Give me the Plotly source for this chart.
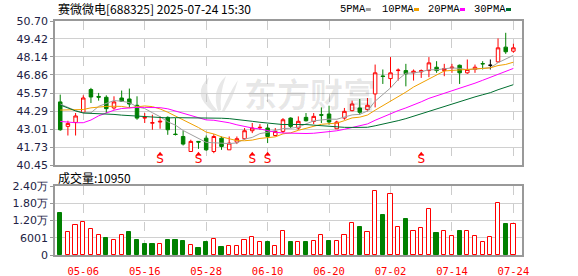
import plotly.graph_objects as go
import pandas as pd

# ---------------- data ----------------
dates = ["04-28","04-29","04-30","05-06","05-07","05-08","05-09","05-12","05-13","05-14",
         "05-15","05-16","05-19","05-20","05-21","05-22","05-23","05-26","05-27","05-28",
         "05-29","05-30","06-03","06-04","06-05","06-06","06-09","06-10","06-11","06-12",
         "06-13","06-16","06-17","06-18","06-19","06-20","06-23","06-24","06-25","06-26",
         "06-27","06-30","07-01","07-02","07-03","07-04","07-07","07-08","07-09","07-10",
         "07-11","07-14","07-15","07-16","07-17","07-18","07-21","07-22","07-23","07-24"]

opens = [44.94,43.20,43.48,44.20,45.82,45.33,45.27,44.51,45.22,45.15,
         44.70,43.79,43.43,43.51,43.84,42.65,42.48,41.41,42.13,42.36,
         41.41,42.36,41.53,42.08,42.32,42.89,43.10,43.08,42.55,42.84,
         43.79,43.08,43.84,43.55,44.03,44.08,43.03,43.79,44.32,44.51,
         44.39,45.51,46.79,46.60,47.17,47.17,47.01,47.08,47.17,47.41,
         47.17,47.36,47.55,47.01,47.25,47.67,47.55,47.79,48.84,48.55]
closes = [42.96,43.41,43.94,45.22,45.29,45.28,44.46,44.94,44.98,44.79,
          43.79,43.84,43.46,43.56,42.96,42.62,41.94,42.13,42.08,41.53,
          42.48,41.77,42.01,42.32,42.89,43.08,43.13,42.48,42.84,43.67,
          43.20,43.56,43.60,43.91,44.00,43.51,43.51,44.27,44.79,44.20,
          44.70,47.01,46.75,47.01,47.20,46.94,47.13,47.17,47.72,47.17,
          47.32,47.41,47.01,47.25,47.41,47.65,47.55,48.79,48.51,48.79]
highs = [45.46,43.60,44.15,45.41,45.94,45.58,45.41,45.34,45.75,45.89,
         45.34,44.15,44.03,43.91,43.91,43.79,42.89,42.25,42.13,42.55,
         42.65,42.48,42.48,42.48,43.08,43.44,43.36,43.36,43.08,43.79,
         43.84,43.91,44.15,44.15,44.55,44.67,43.60,44.51,45.03,45.15,
         45.22,47.60,47.25,48.13,47.32,47.65,47.25,47.25,48.13,47.84,
         47.65,47.65,47.60,47.96,47.60,47.84,47.96,49.46,49.86,49.08]
lows = [42.89,42.55,42.55,44.15,44.86,45.03,44.15,44.39,44.94,44.51,
        43.67,43.44,42.96,43.03,42.60,42.55,41.84,41.41,41.60,41.46,
        41.29,41.53,41.53,41.94,42.25,42.72,42.96,42.01,42.48,42.72,
        43.08,42.96,43.55,43.36,43.44,43.32,43.03,43.67,44.27,44.03,
        44.27,44.55,46.22,45.94,46.46,46.05,46.46,46.65,46.70,47.01,
        46.77,47.01,46.22,46.94,47.01,47.25,47.25,47.72,48.36,48.44]

volumes = [14720,8000,10430,11470,9040,6950,5910,5220,6950,8000,
           5220,3940,3940,3820,5220,5220,4980,3480,2550,4640,
           5450,2780,3130,3130,5220,6260,4640,4640,3130,8340,
           4640,4640,4640,4870,6840,4870,4870,6840,11010,9620,
           7880,22140,13910,21090,9620,12520,8230,9270,15880,7650,
           8230,6490,8340,8230,6490,4400,6140,17960,10780,10950]
vol_up = [0,1,1,1,1,1,0,1,1,0,
          0,0,0,1,0,0,0,1,0,0,
          1,0,1,1,1,1,1,0,1,1,
          0,1,0,1,1,0,1,1,1,0,
          1,1,0,1,1,0,1,1,1,0,
          1,1,0,1,1,1,1,1,0,1]

# moving-average values before enough closes are in view
ma5_head = [44.79, 44.56, 44.32, 44.17]
ma10_head = [44.36, 44.36, 44.37, 44.40, 44.52, 44.58, 44.62, 44.63, 44.62]
ma20_head = [43.55, 43.48, 43.46, 43.46, 43.65, 43.95, 44.15, 44.35, 44.47, 44.53,
             44.55, 44.55, 44.55, 44.53, 44.45, 44.30, 44.12, 43.95, 43.80]
ma30_head = [44.72, 44.51, 44.30, 44.15, 44.13, 44.12, 44.10, 44.05, 44.00, 43.96,
             43.92, 43.88, 43.84, 43.80, 43.80, 43.82, 43.82, 43.82, 43.82, 43.80,
             43.80, 43.78, 43.75, 43.70, 43.64, 43.56, 43.49, 43.42, 43.37]

signal_days = ["05-20", "05-27", "06-06", "06-10", "07-08"]

price_ticks = [40.45, 41.73, 43.01, 44.29, 45.57, 46.86, 48.14, 49.42, 50.70]
vol_ticks = [0, 6001, 12000, 18000, 24000]
vol_ticktext = ["0", "6001", "1.20万", "1.80万", "2.40万"]
date_ticks = ["05-06", "05-16", "05-28", "06-10", "06-20", "07-02", "07-14", "07-24"]

title_text = "赛微微电[688325] 2025-07-24 15:30"
vol_title = "成交量:10950"
ma_names = ["5PMA", "10PMA", "20PMA", "30PMA"]
ma_colors = ["#a0a0a0", "#f0a000", "#ff00ff", "#006f30"]
watermark = "东方财富"

# ---------------- helpers ----------------
RED = "#ff0000"
GREEN = "#008000"
W, H = 578, 276
L, R, T, B = 55, 56, 21, 21
PW, PH = W - L - R, H - T - B


def px(x):
    return (x - L) / PW


def py(y):
    return (H - B - y) / PH


idx = list(range(len(dates)))
cl = pd.Series(closes)


def ma(n, head):
    m = cl.rolling(n).mean().tolist()
    for i, v in enumerate(head):
        m[i] = v
    return m


mas = [ma(5, ma5_head), ma(10, ma10_head), ma(20, ma20_head), ma(30, ma30_head)]

fig = go.Figure()


def candle(sel, inc_col, dec_col, inc_fill, dec_fill):
    fig.add_trace(go.Candlestick(
        x=[idx[i] for i in sel], open=[opens[i] for i in sel], high=[highs[i] for i in sel],
        low=[lows[i] for i in sel], close=[closes[i] for i in sel],
        increasing=dict(line=dict(color=inc_col, width=1), fillcolor=inc_fill),
        decreasing=dict(line=dict(color=dec_col, width=1), fillcolor=dec_fill),
        whiskerwidth=0, xaxis="x", yaxis="y", showlegend=False, hoverinfo="skip"))


up = [i for i in idx if closes[i] > opens[i]]
dn = [i for i in idx if closes[i] < opens[i]]
flat = [i for i in idx if closes[i] == opens[i]]
candle(up, RED, RED, "#ffffff", "#ffffff")
candle(dn, GREEN, GREEN, GREEN, GREEN)
if flat:
    candle(flat, "#000000", "#000000", "#000000", "#000000")

for m, c in zip(mas, ma_colors):
    fig.add_trace(go.Scatter(x=idx, y=m, mode="lines", line=dict(color=c, width=1),
                             xaxis="x", yaxis="y", showlegend=False, hoverinfo="skip"))

sig_x = [dates.index(d) for d in signal_days]
fig.add_trace(go.Scatter(x=sig_x, y=[41.22] * len(sig_x), mode="markers",
                         marker=dict(symbol="triangle-up", size=5, color=RED),
                         xaxis="x", yaxis="y", showlegend=False, hoverinfo="skip"))
fig.add_trace(go.Scatter(x=sig_x, y=[40.78] * len(sig_x), mode="text", text=["S"] * len(sig_x),
                         textfont=dict(color=RED, size=12, family="DejaVu Sans"),
                         xaxis="x", yaxis="y", showlegend=False, hoverinfo="skip"))

fig.add_trace(go.Bar(
    x=idx, y=volumes, width=0.55,
    marker=dict(color=["#ffffff" if u else GREEN for u in vol_up],
                line=dict(color=[RED if u else GREEN for u in vol_up], width=1)),
    xaxis="x2", yaxis="y2", showlegend=False, hoverinfo="skip"))

date_idx = [dates.index(d) for d in date_ticks]
xr = [-0.68, 60.12]
common_x = dict(range=xr, tickvals=date_idx, showgrid=True, gridcolor="#cccccc", griddash="dash",
                gridwidth=1, showline=True, mirror=True, linecolor="#999999", linewidth=1.5,
                zeroline=False, fixedrange=True, automargin=False)
axis_font = dict(family="DejaVu Sans", size=11, color="#222244")

fig.update_layout(
    width=W, height=H, margin=dict(l=L, r=R, t=T, b=B, autoexpand=False),
    paper_bgcolor="white", plot_bgcolor="white",
    boxgap=0.35, bargap=0,
    xaxis=dict(domain=[0, 1], anchor="y", showticklabels=False, ticks="",
               rangeslider=dict(visible=False), **common_x),
    xaxis2=dict(domain=[0, 1], anchor="y2", ticktext=date_ticks, ticks="outside", ticklen=6,
                tickcolor="rgba(0,0,0,0)",
                tickfont=dict(family="DejaVu Sans Mono", size=10.5, color=RED), **common_x),
    yaxis=dict(domain=[py(165), 1], range=[price_ticks[0], price_ticks[-1]], tickvals=price_ticks,
               ticktext=["%.2f" % v for v in price_ticks], ticks="outside", ticklen=3, tickcolor="#999999",
               showgrid=True, gridcolor="#d0d0d0", showline=True, mirror=True, linecolor="#999999",
               linewidth=1.5, zeroline=False, tickfont=axis_font, fixedrange=True, automargin=False),
    yaxis2=dict(domain=[0, py(186)], range=[0, 24000], tickvals=vol_ticks, ticktext=vol_ticktext,
                ticks="outside", ticklen=3, tickcolor="#999999",
                showgrid=True, gridcolor="#d0d0d0", showline=True, mirror=True, linecolor="#999999",
                linewidth=1.5, zeroline=False, tickfont=axis_font, fixedrange=True, automargin=False),
)

ann = []
ann.append(dict(text=title_text, x=px(56), y=py(9), xref="paper", yref="paper", xanchor="left",
                yanchor="middle", showarrow=False,
                font=dict(family="Noto Sans CJK SC", size=12, color="#000000")))
ann.append(dict(text=vol_title, x=px(56), y=py(177), xref="paper", yref="paper", xanchor="left",
                yanchor="middle", showarrow=False,
                font=dict(family="Noto Sans CJK SC", size=12, color="#000000")))
ann.append(dict(text=watermark, x=px(310), y=py(93), xref="paper", yref="paper", xanchor="center",
                yanchor="middle", showarrow=False,
                font=dict(family="Noto Sans CJK SC", size=33, color="rgba(0,0,0,0.09)", weight="bold")))

legend_x = [338, 380, 426, 472]
shapes = []
for name, c, lx in zip(ma_names, ma_colors, legend_x):
    ann.append(dict(text=name, x=px(lx), y=py(9.5), xref="paper", yref="paper", xanchor="left",
                    yanchor="middle", showarrow=False,
                    font=dict(family="Liberation Mono", size=10.5, color="#000000")))
    tx = lx + 6.2 * len(name) + 3
    shapes.append(dict(type="rect", xref="paper", yref="paper", x0=px(tx), x1=px(tx + 5),
                       y0=py(11), y1=py(8), fillcolor=c, line=dict(width=0)))

# watermark logo (light swoosh blades)
blades = [
    [(214, 112), (190, 95), (209, 77), (203, 96), (217, 110)],
    [(218, 111), (211, 90), (226, 76), (219, 95), (221, 110)],
    [(222, 111), (229, 93), (238, 80), (233, 99), (224, 112)],
]
for b in blades:
    p = "M {} {} Q {} {} {} {} Q {} {} {} {} Z".format(
        px(b[0][0]), py(b[0][1]), px(b[1][0]), py(b[1][1]), px(b[2][0]), py(b[2][1]),
        px(b[3][0]), py(b[3][1]), px(b[4][0]), py(b[4][1]))
    shapes.append(dict(type="path", path=p, xref="paper", yref="paper", fillcolor="#e8e8e8",
                       line=dict(width=0), layer="below"))

fig.update_layout(annotations=ann, shapes=shapes)
fig.write_html("out.html")
